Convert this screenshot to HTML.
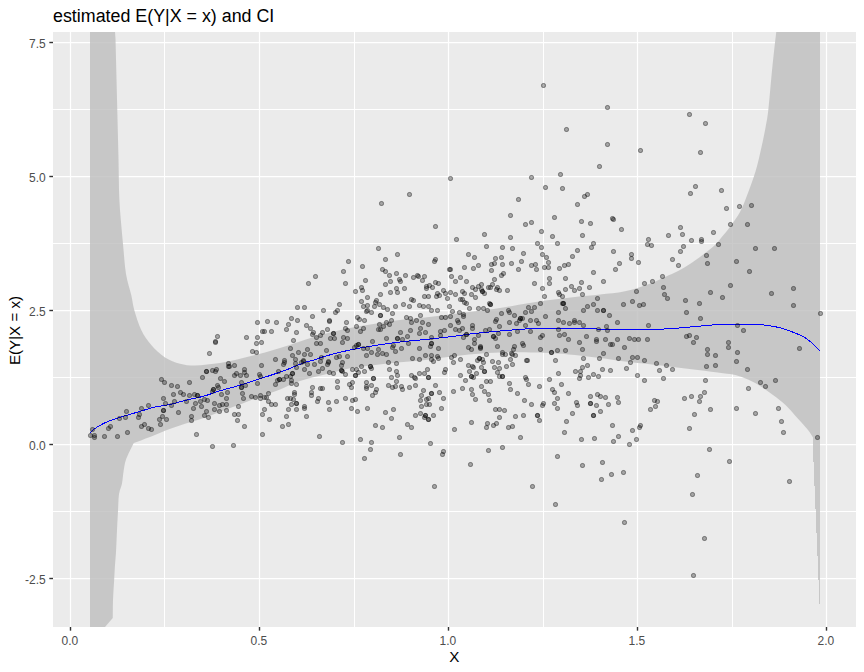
<!DOCTYPE html>
<html><head><meta charset="utf-8"><title>estimated E(Y|X = x) and CI</title>
<style>html,body{margin:0;padding:0;background:#fff}svg{display:block}text{font-family:"Liberation Sans",Arial,sans-serif}</style></head>
<body>
<svg width="864" height="672" viewBox="0 0 864 672">
<rect width="864" height="672" fill="#fff"/>
<rect x="53" y="32" width="803" height="595" fill="#EBEBEB"/>
<clipPath id="c"><rect x="53" y="32" width="803" height="595"/></clipPath>
<g clip-path="url(#c)">
<g stroke="#fff" stroke-width="1">
<line x1="164.50" y1="32" x2="164.50" y2="627"/><line x1="354.50" y1="32" x2="354.50" y2="627"/><line x1="543.50" y1="32" x2="543.50" y2="627"/><line x1="732.50" y1="32" x2="732.50" y2="627"/><line x1="53" y1="109.50" x2="856" y2="109.50"/><line x1="53" y1="243.50" x2="856" y2="243.50"/><line x1="53" y1="377.50" x2="856" y2="377.50"/><line x1="53" y1="511.50" x2="856" y2="511.50"/></g>
<g stroke="#fff" stroke-width="1.25">
<line x1="70.50" y1="32" x2="70.50" y2="627"/><line x1="259.50" y1="32" x2="259.50" y2="627"/><line x1="448.50" y1="32" x2="448.50" y2="627"/><line x1="637.50" y1="32" x2="637.50" y2="627"/><line x1="826.50" y1="32" x2="826.50" y2="627"/><line x1="53" y1="42.50" x2="856" y2="42.50"/><line x1="53" y1="176.50" x2="856" y2="176.50"/><line x1="53" y1="310.50" x2="856" y2="310.50"/><line x1="53" y1="444.50" x2="856" y2="444.50"/><line x1="53" y1="578.50" x2="856" y2="578.50"/></g>
<polygon fill="#BEBEBE" fill-opacity="0.8" points="90,32 115,32 115.5,39 116.5,79 117.5,119 118.5,159 119,190 119.13,193.27 119.31,197.88 119.59,203.55 120,210 120.61,217.61 121.38,226.38 122.2,235.45 123,244 123.7,251.99 124.36,259.81 125.09,267.23 126,274 127.21,280.02 128.62,285.44 130.04,290.38 131.25,295 132.06,299.05 132.64,302.56 133.27,306.04 134.25,310 135.65,314.77 137.31,320 139.2,325.23 141.25,330 143.45,334.16 145.83,337.97 148.42,341.54 151.25,345 154.39,348.45 157.81,351.8 161.39,354.87 165,357.5 168.66,359.61 172.42,361.3 176.22,362.65 180,363.75 183.52,364.6 186.88,365.17 190.55,365.47 195,365.5 200.66,365.21 207.19,364.62 213.87,363.85 220,363 225.35,362.08 230.31,361.03 235.12,359.91 240,358.75 245,357.57 250,356.34 255,355.07 260,353.75 265,352.38 270,350.97 275,349.51 280,348 284.88,346.46 289.69,344.88 294.65,343.23 300,341.5 305.9,339.6 312.19,337.58 318.63,335.58 325,333.75 331.25,332.14 337.5,330.66 343.75,329.29 350,328 356.25,326.82 362.5,325.75 368.75,324.74 375,323.75 381.25,322.75 387.5,321.77 393.75,320.84 400,320 406.25,319.3 412.5,318.7 418.75,318.13 425,317.5 431.25,316.79 437.5,316.05 443.75,315.28 450,314.5 456.25,313.71 462.5,312.89 468.75,312.07 475,311.25 481.25,310.46 487.5,309.69 493.75,308.88 500,308 506.25,307 512.5,305.91 518.75,304.8 525,303.75 531.25,302.76 537.5,301.8 543.75,300.87 550,300 556.25,299.19 562.5,298.42 568.75,297.7 575,297 581.25,296.36 587.5,295.77 593.75,295.17 600,294.5 606.25,293.84 612.5,293.19 618.75,292.38 625,291.25 631.54,289.63 638.28,287.66 644.63,285.6 650,283.75 654,282.18 657.03,280.75 659.67,279.38 662.5,278 665.62,276.64 668.75,275.33 671.88,273.97 675,272.5 678.12,270.89 681.25,269.19 684.38,267.39 687.5,265.5 690.71,263.45 693.97,261.25 697.12,259.05 700,257 702.54,255.12 704.84,253.34 706.97,251.64 709,250 710.94,248.43 712.75,246.93 714.44,245.47 716,244 717.29,242.66 718.34,241.42 719.48,239.99 721,238.1 723.06,235.6 725.47,232.67 728.02,229.48 730.5,226.2 732.93,222.85 735.4,219.35 737.79,215.7 740,211.9 741.91,208.06 743.62,204.14 745.29,199.93 747.1,195.2 749.17,189.75 751.38,183.74 753.55,177.52 755.5,171.4 757.18,165.45 758.67,159.5 760.06,153.55 761.4,147.6 762.74,141.46 764.03,135.2 765.2,129.19 766.2,123.8 766.91,119.91 767.4,117.07 767.86,113.64 768.5,108 769.39,99.04 770.41,87.86 771.48,76.12 772.5,65.5 773.54,55.71 774.62,46.09 775.58,37.81 776.25,32 820,32 820,438 820,604 819,604 819,580 818,580 818,556 817,556 817,533 816,533 816,509 815,509 815,486 814,486 814,462 813,462 813,437.5 812.22,436.24 811.12,434.45 809.72,432.31 808,430 805.91,427.51 803.47,424.77 800.79,421.83 798,418.75 795.05,415.4 791.91,411.8 788.68,408.23 785.5,405 782.38,402.21 779.25,399.69 776.12,397.32 773,395 769.88,392.68 766.75,390.42 763.62,388.27 760.5,386.25 757.38,384.37 754.25,382.61 751.12,380.98 748,379.5 744.88,378.15 741.75,376.94 738.62,375.88 735.5,375 732.67,374.4 730.03,374.05 727,373.73 723,373.25 717.63,372.54 711.28,371.7 704.54,370.83 698,370 691.7,369.23 685.38,368.47 679.11,367.73 673,367 667.16,366.28 661.5,365.58 655.84,364.89 650,364.2 643.89,363.54 637.62,362.89 631.3,362.23 625,361.5 618.75,360.67 612.5,359.77 606.25,358.86 600,358 593.75,357.19 587.5,356.41 581.25,355.67 575,355 568.75,354.4 562.5,353.86 556.25,353.39 550,353 543.75,352.71 537.5,352.51 531.25,352.38 525,352.3 518.75,352.26 512.5,352.26 506.25,352.34 500,352.5 493.75,352.76 487.5,353.09 481.25,353.51 475,354 468.75,354.58 462.5,355.24 456.25,355.95 450,356.7 443.75,357.51 437.5,358.37 431.25,359.23 425,360 418.75,360.64 412.5,361.19 406.25,361.72 400,362.3 393.75,362.93 387.5,363.59 381.25,364.27 375,365 368.75,365.71 362.5,366.43 356.25,367.26 350,368.3 343.75,369.64 337.5,371.2 331.25,372.86 325,374.5 318.63,376.06 312.19,377.61 305.9,379.23 300,381 294.53,383.05 289.38,385.31 284.53,387.54 280,389.5 276.02,391.04 272.5,392.31 268.98,393.55 265,395 260.35,396.73 255.31,398.62 250.12,400.58 245,402.5 240,404.38 235,406.25 230,408.12 225,410 220,411.9 215,413.83 210,415.71 205,417.5 200,419.13 195,420.65 190,422.16 185,423.75 179.88,425.48 174.69,427.28 169.65,429.09 165,430.8 160.93,432.39 157.27,433.9 153.72,435.39 150,436.9 145.64,438.59 140.94,440.38 136.7,441.98 133.75,443.1 131.62,447.32 128.66,453.28 126.25,458.75 125.02,462.72 124.35,466.21 123.75,470 123.12,474.61 122.57,479.53 121.9,484 120.94,487.37 119.86,490.3 119,494 118.53,499.07 118.26,504.93 118,511 117.67,517.07 117.33,523.37 117,530 116.67,537.44 116.33,545.22 116,552 115.67,556.83 115.33,560.67 115,565 114.67,570.5 114.33,576.5 114,582.5 113.64,588.31 113.28,594.13 113,600 112.85,606.63 112.79,613.31 112.75,618 105,627 90,627"/>
<polyline fill="none" stroke="#0000FF" stroke-width="1" shape-rendering="crispEdges" points="90,432.75 90.78,432.02 91.88,430.98 93.28,429.77 95,428.5 97.09,427.14 99.53,425.65 102.21,424.15 105,422.75 107.95,421.49 111.09,420.3 114.32,419.17 117.5,418.1 120.62,417.11 123.75,416.2 126.88,415.31 130,414.4 133.12,413.45 136.25,412.49 139.38,411.53 142.5,410.6 145.57,409.68 148.59,408.78 151.7,407.9 155,407.1 158.53,406.43 162.24,405.86 166.07,405.26 170,404.5 174.06,403.49 178.25,402.32 182.49,401.11 186.7,400 190.85,399.06 195,398.21 199.15,397.33 203.3,396.3 207.47,395.03 211.64,393.61 215.82,392.15 220,390.8 224.18,389.61 228.36,388.49 232.53,387.39 236.7,386.2 240.85,384.9 245,383.54 249.15,382.16 253.3,380.8 257.47,379.48 261.64,378.18 265.82,376.86 270,375.5 274.18,374.11 278.36,372.69 282.53,371.22 286.7,369.7 291,368 295.37,366.17 299.57,364.44 303.3,363 306.38,362.01 309,361.32 311.44,360.72 314,360 316.4,359.17 318.61,358.33 321.26,357.38 325,356.25 330.27,354.82 336.62,353.17 343.42,351.5 350,350 356.25,348.73 362.5,347.58 368.75,346.51 375,345.5 381.25,344.53 387.5,343.62 393.75,342.78 400,342 406.25,341.31 412.5,340.7 418.75,340.12 425,339.5 431.23,338.85 437.44,338.18 443.68,337.49 450,336.75 456.48,335.91 463.06,335 469.62,334.1 476,333.3 482.21,332.63 488.31,332.04 494.26,331.51 500,331 505.6,330.52 511.06,330.07 516.24,329.66 521,329.3 524.96,328.98 528.31,328.71 531.76,328.48 536,328.3 541.32,328.16 547.31,328.07 553.65,328.02 560,328 566.64,328.02 573.62,328.07 580.3,328.17 586,328.3 590.09,328.49 593.06,328.72 596.01,328.97 600,329.2 605.48,329.44 611.81,329.69 618.49,329.89 625,330 631.3,329.98 637.62,329.86 643.89,329.69 650,329.5 655.84,329.31 661.5,329.11 667.16,328.85 673,328.5 679.11,328.02 685.38,327.44 691.7,326.82 698,326.25 704.25,325.69 710.5,325.11 716.75,324.6 723,324.25 729.37,324.08 735.81,324.05 742.1,324.12 748,324.25 753.41,324.41 758.47,324.62 763.29,324.96 768,325.5 772.49,326.2 776.75,327.05 781.01,328.12 785.5,329.5 790.45,331.21 795.69,333.2 800.83,335.47 805.5,338 809.85,341.19 814,344.91 817.52,348.36 820,350.75"/>
<defs><g id="p"><circle r="2.5" fill="#000" fill-opacity="0.3"/><circle r="2.05" fill="none" stroke="#000" stroke-opacity="0.3" stroke-width="0.9"/></g></defs>
<g>
<use href="#p" x="381.5" y="203.5"/><use href="#p" x="409.5" y="194.5"/><use href="#p" x="450.5" y="178.5"/><use href="#p" x="435.5" y="226.5"/><use href="#p" x="510.5" y="215.5"/><use href="#p" x="543.5" y="85.5"/><use href="#p" x="607.5" y="107.5"/><use href="#p" x="566.5" y="129.5"/><use href="#p" x="607.5" y="144.5"/><use href="#p" x="640.5" y="150.5"/><use href="#p" x="599.5" y="166.5"/><use href="#p" x="689.5" y="114.5"/><use href="#p" x="705.5" y="123.5"/><use href="#p" x="700.5" y="152.5"/><use href="#p" x="531.5" y="177.5"/><use href="#p" x="560.5" y="174.5"/><use href="#p" x="545.5" y="187.5"/><use href="#p" x="562.5" y="188.5"/><use href="#p" x="518.5" y="199.5"/><use href="#p" x="587.5" y="194.5"/><use href="#p" x="584.5" y="196.5"/><use href="#p" x="577.5" y="204.5"/><use href="#p" x="554.5" y="217.5"/><use href="#p" x="531.5" y="222.5"/><use href="#p" x="525.5" y="224.5"/><use href="#p" x="581.5" y="221.5"/><use href="#p" x="590.5" y="223.5"/><use href="#p" x="612.5" y="218.5"/><use href="#p" x="613.5" y="219.5"/><use href="#p" x="621.5" y="229.5"/><use href="#p" x="695.5" y="186.5"/><use href="#p" x="690.5" y="193.5"/><use href="#p" x="721.5" y="190.5"/><use href="#p" x="726.5" y="208.5"/><use href="#p" x="739.5" y="206.5"/><use href="#p" x="751.5" y="205.5"/><use href="#p" x="730.5" y="224.5"/><use href="#p" x="747.5" y="224.5"/><use href="#p" x="680.5" y="227.5"/><use href="#p" x="713.5" y="232.5"/><use href="#p" x="668.5" y="235.5"/><use href="#p" x="682.5" y="234.5"/><use href="#p" x="691.5" y="240.5"/><use href="#p" x="701.5" y="239.5"/><use href="#p" x="701.5" y="241.5"/><use href="#p" x="648.5" y="239.5"/><use href="#p" x="651.5" y="245.5"/><use href="#p" x="647.5" y="244.5"/><use href="#p" x="683.5" y="246.5"/><use href="#p" x="680.5" y="251.5"/><use href="#p" x="718.5" y="244.5"/><use href="#p" x="755.5" y="248.5"/><use href="#p" x="774.5" y="248.5"/><use href="#p" x="672.5" y="259.5"/><use href="#p" x="678.5" y="265.5"/><use href="#p" x="706.5" y="255.5"/><use href="#p" x="707.5" y="263.5"/><use href="#p" x="736.5" y="261.5"/><use href="#p" x="749.5" y="271.5"/><use href="#p" x="662.5" y="276.5"/><use href="#p" x="652.5" y="281.5"/><use href="#p" x="663.5" y="287.5"/><use href="#p" x="664.5" y="294.5"/><use href="#p" x="667.5" y="298.5"/><use href="#p" x="685.5" y="300.5"/><use href="#p" x="699.5" y="303.5"/><use href="#p" x="710.5" y="292.5"/><use href="#p" x="722.5" y="297.5"/><use href="#p" x="730.5" y="285.5"/><use href="#p" x="771.5" y="293.5"/><use href="#p" x="793.5" y="288.5"/><use href="#p" x="793.5" y="305.5"/><use href="#p" x="820.5" y="313.5"/><use href="#p" x="686.5" y="312.5"/><use href="#p" x="700.5" y="318.5"/><use href="#p" x="648.5" y="325.5"/><use href="#p" x="737.5" y="325.5"/><use href="#p" x="743.5" y="330.5"/><use href="#p" x="686.5" y="336.5"/><use href="#p" x="689.5" y="335.5"/><use href="#p" x="696.5" y="337.5"/><use href="#p" x="693.5" y="342.5"/><use href="#p" x="647.5" y="339.5"/><use href="#p" x="728.5" y="342.5"/><use href="#p" x="728.5" y="347.5"/><use href="#p" x="707.5" y="349.5"/><use href="#p" x="707.5" y="354.5"/><use href="#p" x="715.5" y="355.5"/><use href="#p" x="737.5" y="352.5"/><use href="#p" x="736.5" y="361.5"/><use href="#p" x="799.5" y="348.5"/><use href="#p" x="656.5" y="363.5"/><use href="#p" x="666.5" y="365.5"/><use href="#p" x="659.5" y="370.5"/><use href="#p" x="672.5" y="369.5"/><use href="#p" x="706.5" y="366.5"/><use href="#p" x="715.5" y="365.5"/><use href="#p" x="747.5" y="369.5"/><use href="#p" x="663.5" y="378.5"/><use href="#p" x="705.5" y="380.5"/><use href="#p" x="760.5" y="382.5"/><use href="#p" x="765.5" y="386.5"/><use href="#p" x="775.5" y="380.5"/><use href="#p" x="748.5" y="388.5"/><use href="#p" x="704.5" y="392.5"/><use href="#p" x="700.5" y="396.5"/><use href="#p" x="691.5" y="396.5"/><use href="#p" x="684.5" y="398.5"/><use href="#p" x="699.5" y="401.5"/><use href="#p" x="654.5" y="400.5"/><use href="#p" x="657.5" y="401.5"/><use href="#p" x="655.5" y="406.5"/><use href="#p" x="650.5" y="409.5"/><use href="#p" x="710.5" y="409.5"/><use href="#p" x="736.5" y="408.5"/><use href="#p" x="778.5" y="408.5"/><use href="#p" x="694.5" y="414.5"/><use href="#p" x="755.5" y="413.5"/><use href="#p" x="781.5" y="421.5"/><use href="#p" x="689.5" y="428.5"/><use href="#p" x="783.5" y="432.5"/><use href="#p" x="817.5" y="437.5"/><use href="#p" x="709.5" y="449.5"/><use href="#p" x="729.5" y="461.5"/><use href="#p" x="697.5" y="475.5"/><use href="#p" x="789.5" y="481.5"/><use href="#p" x="692.5" y="494.5"/><use href="#p" x="704.5" y="538.5"/><use href="#p" x="693.5" y="575.5"/><use href="#p" x="92.5" y="429.5"/><use href="#p" x="90.5" y="435.5"/><use href="#p" x="94.5" y="435.5"/><use href="#p" x="94.5" y="437.5"/><use href="#p" x="104.5" y="436.5"/><use href="#p" x="117.5" y="436.5"/><use href="#p" x="108.5" y="428.5"/><use href="#p" x="110.5" y="426.5"/><use href="#p" x="119.5" y="418.5"/><use href="#p" x="125.5" y="417.5"/><use href="#p" x="126.5" y="411.5"/><use href="#p" x="127.5" y="432.5"/><use href="#p" x="138.5" y="417.5"/><use href="#p" x="139.5" y="414.5"/><use href="#p" x="141.5" y="408.5"/><use href="#p" x="148.5" y="405.5"/><use href="#p" x="141.5" y="426.5"/><use href="#p" x="144.5" y="424.5"/><use href="#p" x="148.5" y="428.5"/><use href="#p" x="151.5" y="429.5"/><use href="#p" x="159.5" y="419.5"/><use href="#p" x="162.5" y="416.5"/><use href="#p" x="166.5" y="419.5"/><use href="#p" x="160.5" y="424.5"/><use href="#p" x="163.5" y="410.5"/><use href="#p" x="163.5" y="410.5"/><use href="#p" x="165.5" y="403.5"/><use href="#p" x="171.5" y="405.5"/><use href="#p" x="174.5" y="401.5"/><use href="#p" x="178.5" y="412.5"/><use href="#p" x="186.5" y="401.5"/><use href="#p" x="161.5" y="379.5"/><use href="#p" x="164.5" y="382.5"/><use href="#p" x="171.5" y="385.5"/><use href="#p" x="177.5" y="386.5"/><use href="#p" x="180.5" y="392.5"/><use href="#p" x="173.5" y="394.5"/><use href="#p" x="183.5" y="394.5"/><use href="#p" x="163.5" y="398.5"/><use href="#p" x="443.5" y="451.5"/><use href="#p" x="442.5" y="454.5"/><use href="#p" x="470.5" y="464.5"/><use href="#p" x="488.5" y="450.5"/><use href="#p" x="502.5" y="447.5"/><use href="#p" x="434.5" y="486.5"/><use href="#p" x="532.5" y="486.5"/><use href="#p" x="557.5" y="456.5"/><use href="#p" x="555.5" y="504.5"/><use href="#p" x="582.5" y="465.5"/><use href="#p" x="602.5" y="462.5"/><use href="#p" x="601.5" y="479.5"/><use href="#p" x="611.5" y="474.5"/><use href="#p" x="623.5" y="472.5"/><use href="#p" x="624.5" y="522.5"/><use href="#p" x="629.5" y="444.5"/><use href="#p" x="613.5" y="441.5"/><use href="#p" x="636.5" y="439.5"/><use href="#p" x="581.5" y="439.5"/><use href="#p" x="594.5" y="438.5"/><use href="#p" x="233.5" y="445.5"/><use href="#p" x="262.5" y="434.5"/><use href="#p" x="319.5" y="436.5"/><use href="#p" x="342.5" y="442.5"/><use href="#p" x="360.5" y="439.5"/><use href="#p" x="371.5" y="442.5"/><use href="#p" x="370.5" y="449.5"/><use href="#p" x="364.5" y="458.5"/><use href="#p" x="399.5" y="437.5"/><use href="#p" x="400.5" y="454.5"/><use href="#p" x="430.5" y="443.5"/><use href="#p" x="315.5" y="276.5"/><use href="#p" x="308.5" y="283.5"/><use href="#p" x="297.5" y="307.5"/><use href="#p" x="304.5" y="307.5"/><use href="#p" x="323.5" y="310.5"/><use href="#p" x="312.5" y="316.5"/><use href="#p" x="291.5" y="318.5"/><use href="#p" x="297.5" y="320.5"/><use href="#p" x="329.5" y="320.5"/><use href="#p" x="329.5" y="321.5"/><use href="#p" x="257.5" y="322.5"/><use href="#p" x="267.5" y="321.5"/><use href="#p" x="276.5" y="322.5"/><use href="#p" x="288.5" y="324.5"/><use href="#p" x="286.5" y="329.5"/><use href="#p" x="306.5" y="325.5"/><use href="#p" x="310.5" y="328.5"/><use href="#p" x="296.5" y="332.5"/><use href="#p" x="262.5" y="331.5"/><use href="#p" x="264.5" y="331.5"/><use href="#p" x="271.5" y="331.5"/><use href="#p" x="327.5" y="329.5"/><use href="#p" x="322.5" y="332.5"/><use href="#p" x="313.5" y="332.5"/><use href="#p" x="312.5" y="334.5"/><use href="#p" x="320.5" y="335.5"/><use href="#p" x="316.5" y="337.5"/><use href="#p" x="217.5" y="336.5"/><use href="#p" x="246.5" y="337.5"/><use href="#p" x="257.5" y="337.5"/><use href="#p" x="293.5" y="340.5"/><use href="#p" x="330.5" y="338.5"/><use href="#p" x="215.5" y="341.5"/><use href="#p" x="215.5" y="342.5"/><use href="#p" x="256.5" y="343.5"/><use href="#p" x="261.5" y="342.5"/><use href="#p" x="209.5" y="353.5"/><use href="#p" x="252.5" y="351.5"/><use href="#p" x="256.5" y="352.5"/><use href="#p" x="290.5" y="348.5"/><use href="#p" x="316.5" y="343.5"/><use href="#p" x="320.5" y="343.5"/><use href="#p" x="307.5" y="349.5"/><use href="#p" x="298.5" y="352.5"/><use href="#p" x="304.5" y="354.5"/><use href="#p" x="310.5" y="354.5"/><use href="#p" x="326.5" y="350.5"/><use href="#p" x="292.5" y="355.5"/><use href="#p" x="295.5" y="359.5"/><use href="#p" x="275.5" y="359.5"/><use href="#p" x="284.5" y="360.5"/><use href="#p" x="284.5" y="362.5"/><use href="#p" x="283.5" y="364.5"/><use href="#p" x="303.5" y="361.5"/><use href="#p" x="303.5" y="360.5"/><use href="#p" x="301.5" y="362.5"/><use href="#p" x="295.5" y="363.5"/><use href="#p" x="307.5" y="364.5"/><use href="#p" x="314.5" y="364.5"/><use href="#p" x="320.5" y="361.5"/><use href="#p" x="321.5" y="357.5"/><use href="#p" x="328.5" y="362.5"/><use href="#p" x="328.5" y="361.5"/><use href="#p" x="327.5" y="364.5"/><use href="#p" x="322.5" y="368.5"/><use href="#p" x="318.5" y="371.5"/><use href="#p" x="329.5" y="372.5"/><use href="#p" x="304.5" y="369.5"/><use href="#p" x="309.5" y="373.5"/><use href="#p" x="296.5" y="367.5"/><use href="#p" x="261.5" y="365.5"/><use href="#p" x="228.5" y="363.5"/><use href="#p" x="228.5" y="366.5"/><use href="#p" x="229.5" y="366.5"/><use href="#p" x="234.5" y="365.5"/><use href="#p" x="244.5" y="369.5"/><use href="#p" x="244.5" y="372.5"/><use href="#p" x="216.5" y="369.5"/><use href="#p" x="212.5" y="370.5"/><use href="#p" x="215.5" y="371.5"/><use href="#p" x="206.5" y="371.5"/><use href="#p" x="206.5" y="371.5"/><use href="#p" x="236.5" y="373.5"/><use href="#p" x="234.5" y="375.5"/><use href="#p" x="240.5" y="375.5"/><use href="#p" x="246.5" y="375.5"/><use href="#p" x="259.5" y="374.5"/><use href="#p" x="260.5" y="376.5"/><use href="#p" x="278.5" y="371.5"/><use href="#p" x="292.5" y="373.5"/><use href="#p" x="292.5" y="373.5"/><use href="#p" x="290.5" y="376.5"/><use href="#p" x="286.5" y="376.5"/><use href="#p" x="283.5" y="379.5"/><use href="#p" x="279.5" y="379.5"/><use href="#p" x="279.5" y="379.5"/><use href="#p" x="277.5" y="380.5"/><use href="#p" x="275.5" y="384.5"/><use href="#p" x="291.5" y="380.5"/><use href="#p" x="291.5" y="383.5"/><use href="#p" x="296.5" y="384.5"/><use href="#p" x="202.5" y="377.5"/><use href="#p" x="220.5" y="378.5"/><use href="#p" x="224.5" y="381.5"/><use href="#p" x="189.5" y="382.5"/><use href="#p" x="241.5" y="382.5"/><use href="#p" x="245.5" y="385.5"/><use href="#p" x="257.5" y="383.5"/><use href="#p" x="217.5" y="385.5"/><use href="#p" x="218.5" y="387.5"/><use href="#p" x="213.5" y="389.5"/><use href="#p" x="213.5" y="389.5"/><use href="#p" x="212.5" y="391.5"/><use href="#p" x="241.5" y="387.5"/><use href="#p" x="241.5" y="387.5"/><use href="#p" x="227.5" y="392.5"/><use href="#p" x="221.5" y="394.5"/><use href="#p" x="242.5" y="393.5"/><use href="#p" x="243.5" y="398.5"/><use href="#p" x="226.5" y="398.5"/><use href="#p" x="189.5" y="395.5"/><use href="#p" x="194.5" y="394.5"/><use href="#p" x="197.5" y="395.5"/><use href="#p" x="197.5" y="395.5"/><use href="#p" x="204.5" y="399.5"/><use href="#p" x="207.5" y="400.5"/><use href="#p" x="200.5" y="401.5"/><use href="#p" x="195.5" y="403.5"/><use href="#p" x="201.5" y="406.5"/><use href="#p" x="193.5" y="408.5"/><use href="#p" x="214.5" y="403.5"/><use href="#p" x="219.5" y="405.5"/><use href="#p" x="222.5" y="404.5"/><use href="#p" x="226.5" y="404.5"/><use href="#p" x="214.5" y="409.5"/><use href="#p" x="219.5" y="411.5"/><use href="#p" x="226.5" y="410.5"/><use href="#p" x="206.5" y="411.5"/><use href="#p" x="204.5" y="415.5"/><use href="#p" x="208.5" y="417.5"/><use href="#p" x="191.5" y="416.5"/><use href="#p" x="191.5" y="420.5"/><use href="#p" x="238.5" y="406.5"/><use href="#p" x="234.5" y="414.5"/><use href="#p" x="238.5" y="414.5"/><use href="#p" x="237.5" y="420.5"/><use href="#p" x="244.5" y="426.5"/><use href="#p" x="196.5" y="434.5"/><use href="#p" x="212.5" y="446.5"/><use href="#p" x="251.5" y="396.5"/><use href="#p" x="255.5" y="397.5"/><use href="#p" x="260.5" y="395.5"/><use href="#p" x="260.5" y="398.5"/><use href="#p" x="264.5" y="397.5"/><use href="#p" x="266.5" y="397.5"/><use href="#p" x="268.5" y="393.5"/><use href="#p" x="268.5" y="401.5"/><use href="#p" x="271.5" y="404.5"/><use href="#p" x="275.5" y="404.5"/><use href="#p" x="264.5" y="409.5"/><use href="#p" x="262.5" y="414.5"/><use href="#p" x="269.5" y="419.5"/><use href="#p" x="287.5" y="398.5"/><use href="#p" x="290.5" y="398.5"/><use href="#p" x="293.5" y="399.5"/><use href="#p" x="294.5" y="392.5"/><use href="#p" x="294.5" y="394.5"/><use href="#p" x="296.5" y="403.5"/><use href="#p" x="296.5" y="403.5"/><use href="#p" x="291.5" y="404.5"/><use href="#p" x="288.5" y="409.5"/><use href="#p" x="296.5" y="409.5"/><use href="#p" x="286.5" y="416.5"/><use href="#p" x="288.5" y="424.5"/><use href="#p" x="282.5" y="426.5"/><use href="#p" x="304.5" y="406.5"/><use href="#p" x="304.5" y="408.5"/><use href="#p" x="306.5" y="416.5"/><use href="#p" x="311.5" y="392.5"/><use href="#p" x="311.5" y="395.5"/><use href="#p" x="312.5" y="387.5"/><use href="#p" x="320.5" y="388.5"/><use href="#p" x="322.5" y="388.5"/><use href="#p" x="318.5" y="398.5"/><use href="#p" x="317.5" y="401.5"/><use href="#p" x="328.5" y="402.5"/><use href="#p" x="329.5" y="409.5"/><use href="#p" x="456.5" y="239.5"/><use href="#p" x="378.5" y="248.5"/><use href="#p" x="397.5" y="254.5"/><use href="#p" x="468.5" y="254.5"/><use href="#p" x="474.5" y="257.5"/><use href="#p" x="385.5" y="259.5"/><use href="#p" x="348.5" y="261.5"/><use href="#p" x="435.5" y="259.5"/><use href="#p" x="434.5" y="261.5"/><use href="#p" x="362.5" y="266.5"/><use href="#p" x="343.5" y="271.5"/><use href="#p" x="382.5" y="269.5"/><use href="#p" x="385.5" y="271.5"/><use href="#p" x="396.5" y="273.5"/><use href="#p" x="389.5" y="275.5"/><use href="#p" x="405.5" y="275.5"/><use href="#p" x="449.5" y="269.5"/><use href="#p" x="450.5" y="269.5"/><use href="#p" x="464.5" y="267.5"/><use href="#p" x="473.5" y="268.5"/><use href="#p" x="413.5" y="277.5"/><use href="#p" x="417.5" y="275.5"/><use href="#p" x="418.5" y="276.5"/><use href="#p" x="424.5" y="276.5"/><use href="#p" x="422.5" y="280.5"/><use href="#p" x="451.5" y="276.5"/><use href="#p" x="460.5" y="277.5"/><use href="#p" x="455.5" y="281.5"/><use href="#p" x="466.5" y="281.5"/><use href="#p" x="399.5" y="279.5"/><use href="#p" x="400.5" y="281.5"/><use href="#p" x="390.5" y="281.5"/><use href="#p" x="385.5" y="284.5"/><use href="#p" x="365.5" y="280.5"/><use href="#p" x="345.5" y="283.5"/><use href="#p" x="361.5" y="287.5"/><use href="#p" x="362.5" y="290.5"/><use href="#p" x="355.5" y="291.5"/><use href="#p" x="396.5" y="288.5"/><use href="#p" x="404.5" y="288.5"/><use href="#p" x="397.5" y="292.5"/><use href="#p" x="390.5" y="292.5"/><use href="#p" x="380.5" y="294.5"/><use href="#p" x="435.5" y="282.5"/><use href="#p" x="438.5" y="283.5"/><use href="#p" x="429.5" y="285.5"/><use href="#p" x="426.5" y="286.5"/><use href="#p" x="426.5" y="288.5"/><use href="#p" x="432.5" y="287.5"/><use href="#p" x="443.5" y="290.5"/><use href="#p" x="445.5" y="293.5"/><use href="#p" x="450.5" y="292.5"/><use href="#p" x="455.5" y="294.5"/><use href="#p" x="437.5" y="293.5"/><use href="#p" x="439.5" y="295.5"/><use href="#p" x="436.5" y="296.5"/><use href="#p" x="424.5" y="296.5"/><use href="#p" x="428.5" y="296.5"/><use href="#p" x="447.5" y="298.5"/><use href="#p" x="462.5" y="291.5"/><use href="#p" x="464.5" y="293.5"/><use href="#p" x="472.5" y="287.5"/><use href="#p" x="475.5" y="289.5"/><use href="#p" x="471.5" y="294.5"/><use href="#p" x="475.5" y="297.5"/><use href="#p" x="460.5" y="299.5"/><use href="#p" x="462.5" y="299.5"/><use href="#p" x="464.5" y="302.5"/><use href="#p" x="466.5" y="303.5"/><use href="#p" x="469.5" y="308.5"/><use href="#p" x="367.5" y="297.5"/><use href="#p" x="361.5" y="301.5"/><use href="#p" x="376.5" y="300.5"/><use href="#p" x="375.5" y="302.5"/><use href="#p" x="379.5" y="304.5"/><use href="#p" x="367.5" y="305.5"/><use href="#p" x="363.5" y="306.5"/><use href="#p" x="374.5" y="306.5"/><use href="#p" x="383.5" y="307.5"/><use href="#p" x="387.5" y="309.5"/><use href="#p" x="339.5" y="304.5"/><use href="#p" x="337.5" y="310.5"/><use href="#p" x="335.5" y="312.5"/><use href="#p" x="411.5" y="299.5"/><use href="#p" x="413.5" y="300.5"/><use href="#p" x="403.5" y="304.5"/><use href="#p" x="395.5" y="306.5"/><use href="#p" x="409.5" y="306.5"/><use href="#p" x="419.5" y="305.5"/><use href="#p" x="423.5" y="306.5"/><use href="#p" x="428.5" y="306.5"/><use href="#p" x="431.5" y="310.5"/><use href="#p" x="437.5" y="310.5"/><use href="#p" x="449.5" y="306.5"/><use href="#p" x="452.5" y="311.5"/><use href="#p" x="459.5" y="312.5"/><use href="#p" x="463.5" y="314.5"/><use href="#p" x="463.5" y="316.5"/><use href="#p" x="450.5" y="316.5"/><use href="#p" x="445.5" y="317.5"/><use href="#p" x="441.5" y="317.5"/><use href="#p" x="367.5" y="310.5"/><use href="#p" x="366.5" y="311.5"/><use href="#p" x="371.5" y="312.5"/><use href="#p" x="380.5" y="315.5"/><use href="#p" x="380.5" y="315.5"/><use href="#p" x="392.5" y="313.5"/><use href="#p" x="420.5" y="315.5"/><use href="#p" x="406.5" y="317.5"/><use href="#p" x="410.5" y="318.5"/><use href="#p" x="416.5" y="320.5"/><use href="#p" x="411.5" y="322.5"/><use href="#p" x="422.5" y="322.5"/><use href="#p" x="428.5" y="324.5"/><use href="#p" x="357.5" y="317.5"/><use href="#p" x="359.5" y="319.5"/><use href="#p" x="364.5" y="320.5"/><use href="#p" x="346.5" y="322.5"/><use href="#p" x="391.5" y="320.5"/><use href="#p" x="386.5" y="322.5"/><use href="#p" x="389.5" y="324.5"/><use href="#p" x="379.5" y="324.5"/><use href="#p" x="383.5" y="326.5"/><use href="#p" x="356.5" y="326.5"/><use href="#p" x="363.5" y="328.5"/><use href="#p" x="345.5" y="328.5"/><use href="#p" x="347.5" y="330.5"/><use href="#p" x="360.5" y="331.5"/><use href="#p" x="378.5" y="329.5"/><use href="#p" x="380.5" y="329.5"/><use href="#p" x="457.5" y="320.5"/><use href="#p" x="458.5" y="322.5"/><use href="#p" x="450.5" y="325.5"/><use href="#p" x="455.5" y="329.5"/><use href="#p" x="459.5" y="330.5"/><use href="#p" x="462.5" y="328.5"/><use href="#p" x="472.5" y="325.5"/><use href="#p" x="472.5" y="328.5"/><use href="#p" x="444.5" y="330.5"/><use href="#p" x="440.5" y="331.5"/><use href="#p" x="440.5" y="335.5"/><use href="#p" x="431.5" y="337.5"/><use href="#p" x="420.5" y="328.5"/><use href="#p" x="419.5" y="333.5"/><use href="#p" x="425.5" y="332.5"/><use href="#p" x="410.5" y="330.5"/><use href="#p" x="400.5" y="332.5"/><use href="#p" x="407.5" y="336.5"/><use href="#p" x="386.5" y="338.5"/><use href="#p" x="397.5" y="338.5"/><use href="#p" x="397.5" y="338.5"/><use href="#p" x="402.5" y="339.5"/><use href="#p" x="333.5" y="333.5"/><use href="#p" x="333.5" y="333.5"/><use href="#p" x="343.5" y="337.5"/><use href="#p" x="347.5" y="338.5"/><use href="#p" x="466.5" y="334.5"/><use href="#p" x="466.5" y="334.5"/><use href="#p" x="463.5" y="337.5"/><use href="#p" x="372.5" y="341.5"/><use href="#p" x="334.5" y="338.5"/><use href="#p" x="342.5" y="342.5"/><use href="#p" x="408.5" y="343.5"/><use href="#p" x="431.5" y="343.5"/><use href="#p" x="431.5" y="343.5"/><use href="#p" x="430.5" y="346.5"/><use href="#p" x="474.5" y="339.5"/><use href="#p" x="474.5" y="343.5"/><use href="#p" x="468.5" y="347.5"/><use href="#p" x="471.5" y="349.5"/><use href="#p" x="358.5" y="344.5"/><use href="#p" x="358.5" y="344.5"/><use href="#p" x="356.5" y="345.5"/><use href="#p" x="354.5" y="347.5"/><use href="#p" x="363.5" y="348.5"/><use href="#p" x="367.5" y="348.5"/><use href="#p" x="378.5" y="349.5"/><use href="#p" x="371.5" y="352.5"/><use href="#p" x="366.5" y="355.5"/><use href="#p" x="377.5" y="354.5"/><use href="#p" x="382.5" y="353.5"/><use href="#p" x="386.5" y="354.5"/><use href="#p" x="393.5" y="345.5"/><use href="#p" x="392.5" y="347.5"/><use href="#p" x="395.5" y="351.5"/><use href="#p" x="401.5" y="348.5"/><use href="#p" x="419.5" y="348.5"/><use href="#p" x="438.5" y="348.5"/><use href="#p" x="336.5" y="357.5"/><use href="#p" x="339.5" y="356.5"/><use href="#p" x="347.5" y="356.5"/><use href="#p" x="342.5" y="362.5"/><use href="#p" x="341.5" y="365.5"/><use href="#p" x="341.5" y="370.5"/><use href="#p" x="341.5" y="370.5"/><use href="#p" x="342.5" y="371.5"/><use href="#p" x="345.5" y="374.5"/><use href="#p" x="333.5" y="373.5"/><use href="#p" x="352.5" y="369.5"/><use href="#p" x="356.5" y="369.5"/><use href="#p" x="358.5" y="372.5"/><use href="#p" x="361.5" y="366.5"/><use href="#p" x="364.5" y="371.5"/><use href="#p" x="355.5" y="375.5"/><use href="#p" x="355.5" y="375.5"/><use href="#p" x="370.5" y="366.5"/><use href="#p" x="370.5" y="366.5"/><use href="#p" x="371.5" y="368.5"/><use href="#p" x="388.5" y="362.5"/><use href="#p" x="396.5" y="363.5"/><use href="#p" x="389.5" y="369.5"/><use href="#p" x="396.5" y="371.5"/><use href="#p" x="397.5" y="375.5"/><use href="#p" x="391.5" y="377.5"/><use href="#p" x="412.5" y="358.5"/><use href="#p" x="419.5" y="359.5"/><use href="#p" x="425.5" y="355.5"/><use href="#p" x="431.5" y="355.5"/><use href="#p" x="437.5" y="356.5"/><use href="#p" x="438.5" y="358.5"/><use href="#p" x="431.5" y="359.5"/><use href="#p" x="433.5" y="361.5"/><use href="#p" x="454.5" y="355.5"/><use href="#p" x="451.5" y="357.5"/><use href="#p" x="460.5" y="359.5"/><use href="#p" x="453.5" y="362.5"/><use href="#p" x="468.5" y="365.5"/><use href="#p" x="472.5" y="366.5"/><use href="#p" x="473.5" y="367.5"/><use href="#p" x="469.5" y="371.5"/><use href="#p" x="427.5" y="369.5"/><use href="#p" x="445.5" y="369.5"/><use href="#p" x="444.5" y="372.5"/><use href="#p" x="419.5" y="373.5"/><use href="#p" x="424.5" y="373.5"/><use href="#p" x="411.5" y="375.5"/><use href="#p" x="414.5" y="377.5"/><use href="#p" x="415.5" y="378.5"/><use href="#p" x="428.5" y="377.5"/><use href="#p" x="428.5" y="377.5"/><use href="#p" x="460.5" y="375.5"/><use href="#p" x="471.5" y="376.5"/><use href="#p" x="471.5" y="376.5"/><use href="#p" x="473.5" y="377.5"/><use href="#p" x="465.5" y="380.5"/><use href="#p" x="373.5" y="378.5"/><use href="#p" x="373.5" y="378.5"/><use href="#p" x="337.5" y="381.5"/><use href="#p" x="337.5" y="387.5"/><use href="#p" x="352.5" y="382.5"/><use href="#p" x="349.5" y="384.5"/><use href="#p" x="351.5" y="387.5"/><use href="#p" x="366.5" y="382.5"/><use href="#p" x="366.5" y="386.5"/><use href="#p" x="366.5" y="388.5"/><use href="#p" x="371.5" y="385.5"/><use href="#p" x="376.5" y="389.5"/><use href="#p" x="375.5" y="392.5"/><use href="#p" x="372.5" y="395.5"/><use href="#p" x="396.5" y="381.5"/><use href="#p" x="388.5" y="385.5"/><use href="#p" x="392.5" y="387.5"/><use href="#p" x="395.5" y="386.5"/><use href="#p" x="401.5" y="386.5"/><use href="#p" x="402.5" y="389.5"/><use href="#p" x="409.5" y="387.5"/><use href="#p" x="415.5" y="385.5"/><use href="#p" x="435.5" y="385.5"/><use href="#p" x="423.5" y="390.5"/><use href="#p" x="421.5" y="395.5"/><use href="#p" x="431.5" y="393.5"/><use href="#p" x="431.5" y="393.5"/><use href="#p" x="439.5" y="392.5"/><use href="#p" x="443.5" y="398.5"/><use href="#p" x="420.5" y="400.5"/><use href="#p" x="426.5" y="399.5"/><use href="#p" x="428.5" y="398.5"/><use href="#p" x="426.5" y="404.5"/><use href="#p" x="429.5" y="404.5"/><use href="#p" x="421.5" y="406.5"/><use href="#p" x="441.5" y="408.5"/><use href="#p" x="453.5" y="391.5"/><use href="#p" x="462.5" y="388.5"/><use href="#p" x="471.5" y="389.5"/><use href="#p" x="472.5" y="394.5"/><use href="#p" x="475.5" y="399.5"/><use href="#p" x="336.5" y="401.5"/><use href="#p" x="345.5" y="398.5"/><use href="#p" x="352.5" y="400.5"/><use href="#p" x="355.5" y="399.5"/><use href="#p" x="351.5" y="408.5"/><use href="#p" x="357.5" y="411.5"/><use href="#p" x="367.5" y="408.5"/><use href="#p" x="393.5" y="409.5"/><use href="#p" x="385.5" y="412.5"/><use href="#p" x="391.5" y="418.5"/><use href="#p" x="420.5" y="413.5"/><use href="#p" x="415.5" y="415.5"/><use href="#p" x="425.5" y="415.5"/><use href="#p" x="425.5" y="415.5"/><use href="#p" x="424.5" y="417.5"/><use href="#p" x="428.5" y="419.5"/><use href="#p" x="428.5" y="419.5"/><use href="#p" x="433.5" y="415.5"/><use href="#p" x="375.5" y="425.5"/><use href="#p" x="382.5" y="427.5"/><use href="#p" x="407.5" y="424.5"/><use href="#p" x="411.5" y="427.5"/><use href="#p" x="471.5" y="422.5"/><use href="#p" x="454.5" y="429.5"/><use href="#p" x="484.5" y="234.5"/><use href="#p" x="510.5" y="237.5"/><use href="#p" x="541.5" y="231.5"/><use href="#p" x="552.5" y="236.5"/><use href="#p" x="582.5" y="235.5"/><use href="#p" x="486.5" y="246.5"/><use href="#p" x="502.5" y="247.5"/><use href="#p" x="512.5" y="248.5"/><use href="#p" x="537.5" y="243.5"/><use href="#p" x="541.5" y="247.5"/><use href="#p" x="557.5" y="243.5"/><use href="#p" x="593.5" y="243.5"/><use href="#p" x="591.5" y="247.5"/><use href="#p" x="577.5" y="250.5"/><use href="#p" x="613.5" y="251.5"/><use href="#p" x="523.5" y="253.5"/><use href="#p" x="542.5" y="254.5"/><use href="#p" x="546.5" y="257.5"/><use href="#p" x="572.5" y="256.5"/><use href="#p" x="501.5" y="257.5"/><use href="#p" x="495.5" y="258.5"/><use href="#p" x="521.5" y="261.5"/><use href="#p" x="511.5" y="263.5"/><use href="#p" x="502.5" y="264.5"/><use href="#p" x="494.5" y="263.5"/><use href="#p" x="491.5" y="264.5"/><use href="#p" x="478.5" y="265.5"/><use href="#p" x="548.5" y="262.5"/><use href="#p" x="535.5" y="264.5"/><use href="#p" x="531.5" y="265.5"/><use href="#p" x="544.5" y="267.5"/><use href="#p" x="548.5" y="267.5"/><use href="#p" x="536.5" y="269.5"/><use href="#p" x="518.5" y="269.5"/><use href="#p" x="491.5" y="270.5"/><use href="#p" x="568.5" y="264.5"/><use href="#p" x="564.5" y="265.5"/><use href="#p" x="559.5" y="268.5"/><use href="#p" x="619.5" y="263.5"/><use href="#p" x="615.5" y="269.5"/><use href="#p" x="593.5" y="272.5"/><use href="#p" x="503.5" y="273.5"/><use href="#p" x="501.5" y="275.5"/><use href="#p" x="494.5" y="279.5"/><use href="#p" x="549.5" y="278.5"/><use href="#p" x="549.5" y="283.5"/><use href="#p" x="565.5" y="278.5"/><use href="#p" x="534.5" y="283.5"/><use href="#p" x="581.5" y="282.5"/><use href="#p" x="603.5" y="281.5"/><use href="#p" x="481.5" y="284.5"/><use href="#p" x="478.5" y="286.5"/><use href="#p" x="492.5" y="284.5"/><use href="#p" x="488.5" y="287.5"/><use href="#p" x="490.5" y="287.5"/><use href="#p" x="497.5" y="287.5"/><use href="#p" x="496.5" y="289.5"/><use href="#p" x="499.5" y="290.5"/><use href="#p" x="507.5" y="290.5"/><use href="#p" x="481.5" y="289.5"/><use href="#p" x="482.5" y="291.5"/><use href="#p" x="482.5" y="291.5"/><use href="#p" x="484.5" y="293.5"/><use href="#p" x="542.5" y="288.5"/><use href="#p" x="571.5" y="286.5"/><use href="#p" x="574.5" y="290.5"/><use href="#p" x="565.5" y="289.5"/><use href="#p" x="579.5" y="288.5"/><use href="#p" x="589.5" y="287.5"/><use href="#p" x="582.5" y="294.5"/><use href="#p" x="558.5" y="292.5"/><use href="#p" x="559.5" y="294.5"/><use href="#p" x="562.5" y="296.5"/><use href="#p" x="544.5" y="296.5"/><use href="#p" x="597.5" y="298.5"/><use href="#p" x="540.5" y="303.5"/><use href="#p" x="563.5" y="303.5"/><use href="#p" x="563.5" y="303.5"/><use href="#p" x="562.5" y="303.5"/><use href="#p" x="565.5" y="308.5"/><use href="#p" x="593.5" y="304.5"/><use href="#p" x="587.5" y="306.5"/><use href="#p" x="583.5" y="310.5"/><use href="#p" x="597.5" y="310.5"/><use href="#p" x="603.5" y="310.5"/><use href="#p" x="603.5" y="310.5"/><use href="#p" x="609.5" y="315.5"/><use href="#p" x="490.5" y="304.5"/><use href="#p" x="490.5" y="304.5"/><use href="#p" x="489.5" y="303.5"/><use href="#p" x="478.5" y="308.5"/><use href="#p" x="483.5" y="308.5"/><use href="#p" x="487.5" y="310.5"/><use href="#p" x="528.5" y="307.5"/><use href="#p" x="534.5" y="307.5"/><use href="#p" x="531.5" y="311.5"/><use href="#p" x="525.5" y="312.5"/><use href="#p" x="508.5" y="310.5"/><use href="#p" x="509.5" y="312.5"/><use href="#p" x="501.5" y="313.5"/><use href="#p" x="514.5" y="315.5"/><use href="#p" x="558.5" y="312.5"/><use href="#p" x="545.5" y="316.5"/><use href="#p" x="496.5" y="319.5"/><use href="#p" x="495.5" y="321.5"/><use href="#p" x="520.5" y="318.5"/><use href="#p" x="520.5" y="318.5"/><use href="#p" x="522.5" y="318.5"/><use href="#p" x="519.5" y="320.5"/><use href="#p" x="530.5" y="320.5"/><use href="#p" x="536.5" y="320.5"/><use href="#p" x="538.5" y="323.5"/><use href="#p" x="509.5" y="322.5"/><use href="#p" x="516.5" y="323.5"/><use href="#p" x="525.5" y="325.5"/><use href="#p" x="499.5" y="326.5"/><use href="#p" x="558.5" y="320.5"/><use href="#p" x="563.5" y="322.5"/><use href="#p" x="569.5" y="323.5"/><use href="#p" x="574.5" y="320.5"/><use href="#p" x="574.5" y="322.5"/><use href="#p" x="579.5" y="322.5"/><use href="#p" x="583.5" y="325.5"/><use href="#p" x="617.5" y="322.5"/><use href="#p" x="606.5" y="326.5"/><use href="#p" x="598.5" y="329.5"/><use href="#p" x="607.5" y="330.5"/><use href="#p" x="558.5" y="329.5"/><use href="#p" x="485.5" y="330.5"/><use href="#p" x="489.5" y="329.5"/><use href="#p" x="498.5" y="333.5"/><use href="#p" x="509.5" y="334.5"/><use href="#p" x="517.5" y="331.5"/><use href="#p" x="530.5" y="331.5"/><use href="#p" x="478.5" y="335.5"/><use href="#p" x="493.5" y="336.5"/><use href="#p" x="493.5" y="336.5"/><use href="#p" x="495.5" y="338.5"/><use href="#p" x="542.5" y="335.5"/><use href="#p" x="540.5" y="337.5"/><use href="#p" x="559.5" y="335.5"/><use href="#p" x="564.5" y="334.5"/><use href="#p" x="586.5" y="336.5"/><use href="#p" x="568.5" y="339.5"/><use href="#p" x="596.5" y="339.5"/><use href="#p" x="605.5" y="339.5"/><use href="#p" x="617.5" y="339.5"/><use href="#p" x="596.5" y="341.5"/><use href="#p" x="610.5" y="344.5"/><use href="#p" x="612.5" y="344.5"/><use href="#p" x="579.5" y="342.5"/><use href="#p" x="582.5" y="349.5"/><use href="#p" x="603.5" y="353.5"/><use href="#p" x="599.5" y="358.5"/><use href="#p" x="618.5" y="358.5"/><use href="#p" x="583.5" y="358.5"/><use href="#p" x="565.5" y="350.5"/><use href="#p" x="557.5" y="350.5"/><use href="#p" x="551.5" y="352.5"/><use href="#p" x="551.5" y="352.5"/><use href="#p" x="540.5" y="349.5"/><use href="#p" x="522.5" y="343.5"/><use href="#p" x="523.5" y="345.5"/><use href="#p" x="514.5" y="346.5"/><use href="#p" x="513.5" y="349.5"/><use href="#p" x="511.5" y="353.5"/><use href="#p" x="512.5" y="354.5"/><use href="#p" x="515.5" y="355.5"/><use href="#p" x="497.5" y="346.5"/><use href="#p" x="480.5" y="346.5"/><use href="#p" x="480.5" y="348.5"/><use href="#p" x="502.5" y="352.5"/><use href="#p" x="502.5" y="354.5"/><use href="#p" x="505.5" y="354.5"/><use href="#p" x="486.5" y="354.5"/><use href="#p" x="479.5" y="358.5"/><use href="#p" x="479.5" y="358.5"/><use href="#p" x="482.5" y="359.5"/><use href="#p" x="477.5" y="360.5"/><use href="#p" x="483.5" y="362.5"/><use href="#p" x="492.5" y="361.5"/><use href="#p" x="498.5" y="362.5"/><use href="#p" x="510.5" y="359.5"/><use href="#p" x="512.5" y="364.5"/><use href="#p" x="506.5" y="366.5"/><use href="#p" x="526.5" y="360.5"/><use href="#p" x="527.5" y="360.5"/><use href="#p" x="555.5" y="360.5"/><use href="#p" x="481.5" y="367.5"/><use href="#p" x="494.5" y="367.5"/><use href="#p" x="499.5" y="368.5"/><use href="#p" x="497.5" y="372.5"/><use href="#p" x="484.5" y="371.5"/><use href="#p" x="484.5" y="371.5"/><use href="#p" x="476.5" y="373.5"/><use href="#p" x="499.5" y="376.5"/><use href="#p" x="502.5" y="376.5"/><use href="#p" x="502.5" y="376.5"/><use href="#p" x="525.5" y="377.5"/><use href="#p" x="526.5" y="379.5"/><use href="#p" x="558.5" y="373.5"/><use href="#p" x="549.5" y="379.5"/><use href="#p" x="587.5" y="365.5"/><use href="#p" x="582.5" y="367.5"/><use href="#p" x="575.5" y="371.5"/><use href="#p" x="580.5" y="371.5"/><use href="#p" x="580.5" y="375.5"/><use href="#p" x="579.5" y="378.5"/><use href="#p" x="588.5" y="377.5"/><use href="#p" x="593.5" y="374.5"/><use href="#p" x="598.5" y="376.5"/><use href="#p" x="602.5" y="369.5"/><use href="#p" x="610.5" y="370.5"/><use href="#p" x="486.5" y="381.5"/><use href="#p" x="490.5" y="381.5"/><use href="#p" x="481.5" y="386.5"/><use href="#p" x="484.5" y="391.5"/><use href="#p" x="488.5" y="394.5"/><use href="#p" x="489.5" y="400.5"/><use href="#p" x="509.5" y="383.5"/><use href="#p" x="510.5" y="389.5"/><use href="#p" x="517.5" y="393.5"/><use href="#p" x="528.5" y="384.5"/><use href="#p" x="539.5" y="386.5"/><use href="#p" x="524.5" y="400.5"/><use href="#p" x="531.5" y="404.5"/><use href="#p" x="543.5" y="403.5"/><use href="#p" x="542.5" y="405.5"/><use href="#p" x="561.5" y="384.5"/><use href="#p" x="552.5" y="389.5"/><use href="#p" x="554.5" y="392.5"/><use href="#p" x="568.5" y="393.5"/><use href="#p" x="557.5" y="398.5"/><use href="#p" x="554.5" y="403.5"/><use href="#p" x="557.5" y="408.5"/><use href="#p" x="576.5" y="402.5"/><use href="#p" x="577.5" y="405.5"/><use href="#p" x="590.5" y="396.5"/><use href="#p" x="597.5" y="394.5"/><use href="#p" x="600.5" y="396.5"/><use href="#p" x="605.5" y="397.5"/><use href="#p" x="617.5" y="397.5"/><use href="#p" x="590.5" y="403.5"/><use href="#p" x="590.5" y="403.5"/><use href="#p" x="596.5" y="405.5"/><use href="#p" x="608.5" y="404.5"/><use href="#p" x="618.5" y="402.5"/><use href="#p" x="600.5" y="411.5"/><use href="#p" x="593.5" y="415.5"/><use href="#p" x="593.5" y="415.5"/><use href="#p" x="572.5" y="413.5"/><use href="#p" x="566.5" y="421.5"/><use href="#p" x="564.5" y="432.5"/><use href="#p" x="612.5" y="425.5"/><use href="#p" x="618.5" y="436.5"/><use href="#p" x="495.5" y="409.5"/><use href="#p" x="499.5" y="409.5"/><use href="#p" x="504.5" y="410.5"/><use href="#p" x="499.5" y="417.5"/><use href="#p" x="515.5" y="416.5"/><use href="#p" x="523.5" y="415.5"/><use href="#p" x="537.5" y="415.5"/><use href="#p" x="537.5" y="415.5"/><use href="#p" x="539.5" y="420.5"/><use href="#p" x="487.5" y="423.5"/><use href="#p" x="486.5" y="427.5"/><use href="#p" x="493.5" y="425.5"/><use href="#p" x="496.5" y="423.5"/><use href="#p" x="508.5" y="427.5"/><use href="#p" x="512.5" y="426.5"/><use href="#p" x="520.5" y="437.5"/><use href="#p" x="631.5" y="254.5"/><use href="#p" x="631.5" y="258.5"/><use href="#p" x="638.5" y="262.5"/><use href="#p" x="644.5" y="283.5"/><use href="#p" x="636.5" y="291.5"/><use href="#p" x="632.5" y="301.5"/><use href="#p" x="623.5" y="304.5"/><use href="#p" x="639.5" y="305.5"/><use href="#p" x="643.5" y="304.5"/><use href="#p" x="629.5" y="338.5"/><use href="#p" x="634.5" y="339.5"/><use href="#p" x="638.5" y="339.5"/><use href="#p" x="624.5" y="347.5"/><use href="#p" x="632.5" y="357.5"/><use href="#p" x="637.5" y="357.5"/><use href="#p" x="630.5" y="362.5"/><use href="#p" x="644.5" y="360.5"/><use href="#p" x="626.5" y="368.5"/><use href="#p" x="637.5" y="375.5"/><use href="#p" x="644.5" y="380.5"/><use href="#p" x="640.5" y="425.5"/><use href="#p" x="639.5" y="427.5"/><use href="#p" x="632.5" y="430.5"/><use href="#p" x="480.5" y="347.5"/>
</g>
</g>
<g stroke="#333" stroke-width="1.42">
<line x1="70.50" y1="627" x2="70.50" y2="630.67"/><line x1="259.50" y1="627" x2="259.50" y2="630.67"/><line x1="448.50" y1="627" x2="448.50" y2="630.67"/><line x1="637.50" y1="627" x2="637.50" y2="630.67"/><line x1="826.50" y1="627" x2="826.50" y2="630.67"/><line x1="49.33" y1="42.50" x2="53" y2="42.50"/><line x1="49.33" y1="176.50" x2="53" y2="176.50"/><line x1="49.33" y1="310.50" x2="53" y2="310.50"/><line x1="49.33" y1="444.50" x2="53" y2="444.50"/><line x1="49.33" y1="578.50" x2="53" y2="578.50"/></g>
<g fill="#4D4D4D" font-size="12">
<text x="69.80" y="644.8" text-anchor="middle">0.0</text><text x="258.80" y="644.8" text-anchor="middle">0.5</text><text x="447.80" y="644.8" text-anchor="middle">1.0</text><text x="636.80" y="644.8" text-anchor="middle">1.5</text><text x="825.80" y="644.8" text-anchor="middle">2.0</text><text x="45.80" y="48.20" text-anchor="end">7.5</text><text x="45.80" y="182.20" text-anchor="end">5.0</text><text x="45.80" y="316.20" text-anchor="end">2.5</text><text x="45.80" y="450.20" text-anchor="end">0.0</text><text x="45.80" y="584.20" text-anchor="end">-2.5</text></g>
<text x="454.4" y="662" font-size="15.2" text-anchor="middle" fill="#000">X</text>
<text transform="translate(19.8,330.5) rotate(-90)" font-size="15.15" text-anchor="middle" fill="#000">E(Y|X = x)</text>
<text x="53" y="22" font-size="17.85" fill="#000">estimated E(Y|X = x) and CI</text>
</svg>
</body></html>
